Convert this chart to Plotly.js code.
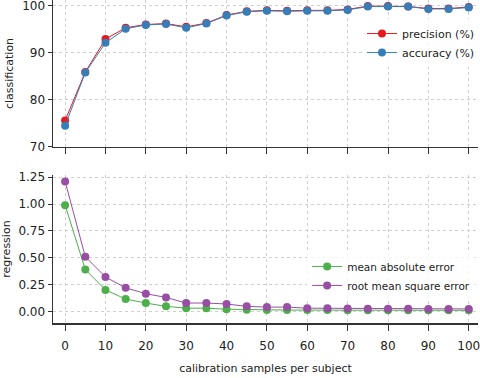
<!DOCTYPE html>
<html>
<head>
<meta charset="utf-8">
<script src="https://cdn.plot.ly/plotly-3.0.1.min.js"></script>
<style>
  html, body { margin: 0; padding: 0; background: #fff; }
  #plot { width: 480px; height: 378px; }
</style>
</head>
<body>
<div id="plot"></div>
<script>
// samples per subject
const samples = [0, 5, 10, 15, 20, 25, 30, 35, 40, 45, 50, 55, 60, 65, 70, 75, 80, 85, 90, 95, 100];

// classification (%)
const precision = [75.6, 85.9, 92.9, 95.3, 96.0, 96.2, 95.5, 96.3, 98.0, 98.8, 99.0, 98.9, 99.0, 99.0, 99.2, 99.9, 99.9, 99.8, 99.4, 99.4, 99.7];
const accuracy  = [74.5, 85.8, 92.1, 95.1, 95.9, 96.1, 95.3, 96.2, 97.9, 98.7, 98.9, 98.8, 98.9, 98.9, 99.1, 99.8, 99.8, 99.8, 99.3, 99.3, 99.6];

// regression
const mae  = [0.99, 0.39, 0.20, 0.115, 0.078, 0.047, 0.030, 0.030, 0.020, 0.016, 0.014, 0.013, 0.012, 0.012, 0.011, 0.010, 0.010, 0.010, 0.010, 0.010, 0.010];
const rmse = [1.21, 0.51, 0.32, 0.22, 0.165, 0.13, 0.078, 0.078, 0.069, 0.047, 0.040, 0.040, 0.030, 0.030, 0.028, 0.025, 0.025, 0.024, 0.023, 0.023, 0.023];

const xTicks = [0, 10, 20, 30, 40, 50, 60, 70, 80, 90, 100];

const RED = "#e41a1c", BLUE = "#377eb8", GREEN = "#4daf4a", PURPLE = "#984ea3";
const FONT = "DejaVu Sans, sans-serif";

function series(y, name, color, xa, ya, legend) {
  return {
    x: samples, y: y, name: name,
    mode: "lines+markers",
    line: { color: color, width: 1 },
    marker: { color: color, size: 8 },
    xaxis: xa, yaxis: ya, legend: legend
  };
}

const traces = [
  series(precision, "precision (%)", RED, "x", "y", "legend"),
  series(accuracy, "accuracy (%)", BLUE, "x", "y", "legend"),
  series(mae, "mean absolute error", GREEN, "x2", "y2", "legend2"),
  series(rmse, "root mean square error", PURPLE, "x2", "y2", "legend2")
];

const gridStyle = {
  showgrid: true, gridcolor: "#d0d0d0", griddash: "dot", gridwidth: 1,
  zeroline: false, showline: true, linecolor: "#333", linewidth: 1.5,
  ticks: "outside", tickcolor: "#333", ticklabeloverflow: "allow",
  tickfont: { family: FONT, size: 12, color: "#222" }
};

const layout = {
  width: 480, height: 378,
  margin: { l: 53, r: 2, t: 0, b: 55, autoexpand: false },
  paper_bgcolor: "#fff", plot_bgcolor: "#fff",
  font: { family: FONT, color: "#222" },
  xaxis: Object.assign({}, gridStyle, {
    range: [-3, 102.3], tickvals: xTicks,
    showticklabels: false, ticklen: 6, anchor: "y"
  }),
  yaxis: Object.assign({}, gridStyle, {
    domain: [0.545, 1], range: [70, 101.2], tickvals: [70, 80, 90, 100],
    ticklen: 4, anchor: "x",
    title: { text: "classification", font: { family: FONT, size: 11 }, standoff: 6 }
  }),
  xaxis2: Object.assign({}, gridStyle, {
    range: [-3, 102.3], tickvals: xTicks,
    ticklen: 6, ticklabelstandoff: 5, anchor: "y2",
    title: { text: "calibration samples per subject", font: { family: FONT, size: 11 }, standoff: 12 }
  }),
  yaxis2: Object.assign({}, gridStyle, {
    domain: [0, 0.458], range: [-0.108, 1.27],
    tickvals: [0, 0.25, 0.5, 0.75, 1.0, 1.25], tickformat: ".2f",
    ticklen: 4, anchor: "x2",
    title: { text: "regression", font: { family: FONT, size: 11 }, standoff: 6 }
  }),
  legend: {
    x: 0.727, y: 0.941, xanchor: "left", yanchor: "top",
    bgcolor: "rgba(255,255,255,0.8)", font: { family: FONT, size: 11 },
    tracegroupgap: 0, itemwidth: 30
  },
  legend2: {
    x: 0.598, y: 0.220, xanchor: "left", yanchor: "top",
    bgcolor: "rgba(255,255,255,0.8)", font: { family: FONT, size: 10.5 },
    tracegroupgap: 0, itemwidth: 30
  },
  showlegend: true
};

Plotly.newPlot("plot", traces, layout, { displayModeBar: false, staticPlot: true });
</script>
</body>
</html>
